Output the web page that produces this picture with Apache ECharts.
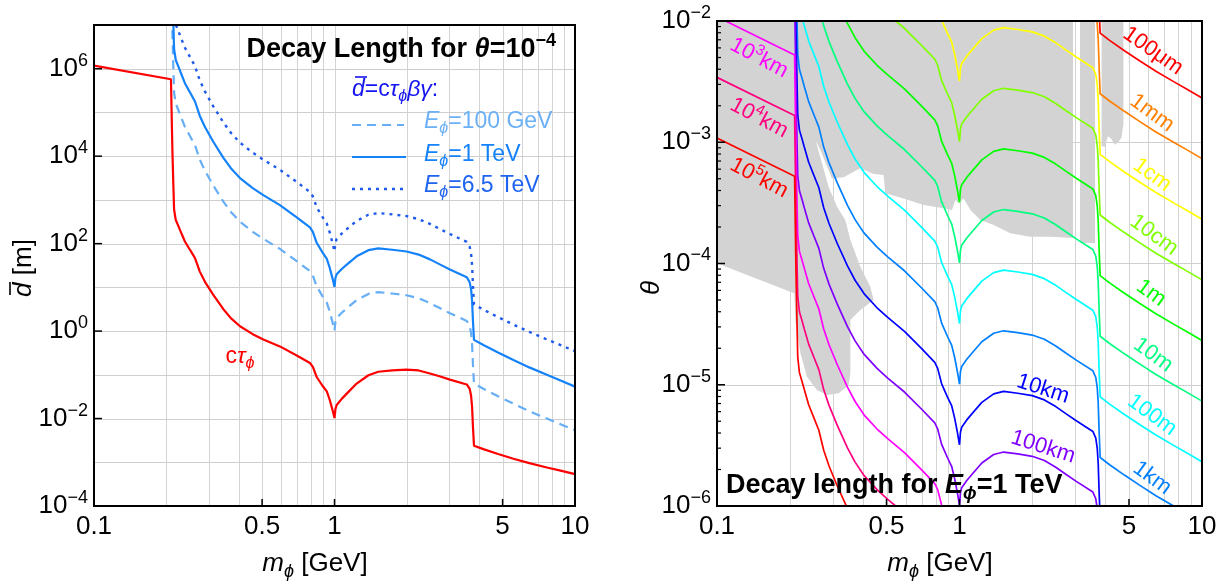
<!DOCTYPE html>
<html><head><meta charset="utf-8">
<script src="https://cdn.jsdelivr.net/npm/echarts@6.0.0/dist/echarts.min.js"></script>
<style>html,body{margin:0;padding:0;background:#fff}#c{width:1223px;height:583px}</style>
</head><body><div id="c"></div><script>
// ---------- DATA (log10 values) ----------
const massLog = [-1.000,-0.680,-0.677,-0.674,-0.670,-0.667,-0.660,-0.649,-0.640,-0.622,-0.600,-0.580,-0.560,-0.538,-0.504,-0.462,-0.430,-0.393,-0.340,-0.296,-0.227,-0.157,-0.102,-0.090,-0.074,-0.050,-0.032,-0.020,-0.008,0.000,0.004,0.009,0.030,0.051,0.092,0.141,0.182,0.240,0.300,0.350,0.397,0.440,0.480,0.550,0.562,0.568,0.572,0.576,0.580,0.619,0.680,0.744,0.810,0.883,0.940,1.000];
const logCtau = [6.07,5.76,4.92,4.13,3.33,2.78,2.54,2.40,2.28,2.05,1.85,1.67,1.36,1.12,0.83,0.50,0.29,0.11,-0.07,-0.19,-0.35,-0.56,-0.73,-0.82,-1.05,-1.25,-1.38,-1.57,-1.81,-1.99,-1.78,-1.69,-1.55,-1.43,-1.20,-1.01,-0.93,-0.90,-0.88,-0.90,-0.97,-1.04,-1.11,-1.22,-1.32,-1.48,-1.73,-2.22,-2.62,-2.70,-2.81,-2.92,-3.02,-3.12,-3.19,-3.27];
const logD100GeV = [9.07,8.44,7.6,6.8,6.0,5.45,5.2,5.05,4.92,4.67,4.45,4.25,3.92,3.66,3.33,2.96,2.72,2.50,2.27,2.11,1.88,1.60,1.37,1.27,1.02,0.80,0.65,0.45,0.20,0.01,0.22,0.30,0.42,0.52,0.71,0.85,0.89,0.86,0.82,0.75,0.64,0.52,0.41,0.23,0.12,-0.05,-0.30,-0.80,-1.20,-1.32,-1.49,-1.66,-1.83,-2.00,-2.13,-2.27];
const logD1TeV = [10.07,9.44,8.6,7.8,7.0,6.45,6.2,6.05,5.92,5.67,5.45,5.25,4.92,4.66,4.33,3.96,3.72,3.50,3.27,3.11,2.88,2.60,2.37,2.27,2.02,1.80,1.65,1.45,1.20,1.01,1.22,1.30,1.42,1.52,1.71,1.85,1.89,1.86,1.82,1.75,1.64,1.52,1.41,1.23,1.12,0.95,0.70,0.20,-0.20,-0.32,-0.49,-0.66,-0.83,-1.00,-1.13,-1.27];
const logD6500GeV = [10.88,10.25,9.41,8.61,7.81,7.26,7.01,6.86,6.73,6.48,6.26,6.06,5.73,5.47,5.14,4.77,4.53,4.31,4.08,3.92,3.69,3.41,3.18,3.08,2.83,2.61,2.46,2.26,2.01,1.82,2.03,2.11,2.23,2.33,2.52,2.66,2.70,2.67,2.63,2.56,2.45,2.33,2.22,2.04,1.93,1.76,1.51,1.01,0.61,0.49,0.32,0.15,-0.02,-0.19,-0.32,-0.46];

// right panel: log10(theta) of each decay-length contour, starting at massLog[contourStart[k]]
const th100um = [-1.90,-2.10,-2.16,-2.245,-2.33,-2.415,-2.50,-2.565,-2.635];
const th1mm = [-1.94,-2.025,-2.15,-2.40,-2.60,-2.66,-2.745,-2.83,-2.915,-3.00,-3.065,-3.135];
const th1cm = [-1.865,-1.99,-2.10,-2.175,-2.275,-2.40,-2.495,-2.39,-2.35,-2.29,-2.24,-2.145,-2.075,-2.055,-2.07,-2.09,-2.125,-2.18,-2.24,-2.295,-2.385,-2.44,-2.525,-2.65,-2.90,-3.10,-3.16,-3.245,-3.33,-3.415,-3.50,-3.565,-3.635];
const th10cm = [-1.945,-2.06,-2.20,-2.315,-2.365,-2.49,-2.60,-2.675,-2.775,-2.90,-2.995,-2.89,-2.85,-2.79,-2.74,-2.645,-2.575,-2.555,-2.57,-2.59,-2.625,-2.68,-2.74,-2.795,-2.885,-2.94,-3.025,-3.15,-3.40,-3.60,-3.66,-3.745,-3.83,-3.915,-4.00,-4.065,-4.135];
const th1m = [-1.835,-2.02,-2.14,-2.25,-2.365,-2.445,-2.56,-2.70,-2.815,-2.865,-2.99,-3.10,-3.175,-3.275,-3.40,-3.495,-3.39,-3.35,-3.29,-3.24,-3.145,-3.075,-3.055,-3.07,-3.09,-3.125,-3.18,-3.24,-3.295,-3.385,-3.44,-3.525,-3.65,-3.90,-4.10,-4.16,-4.245,-4.33,-4.415,-4.50,-4.565,-4.635];
const th10m = [-1.875,-2.04,-2.17,-2.335,-2.52,-2.64,-2.75,-2.865,-2.945,-3.06,-3.20,-3.315,-3.365,-3.49,-3.60,-3.675,-3.775,-3.90,-3.995,-3.89,-3.85,-3.79,-3.74,-3.645,-3.575,-3.555,-3.57,-3.59,-3.625,-3.68,-3.74,-3.795,-3.885,-3.94,-4.025,-4.15,-4.40,-4.60,-4.66,-4.745,-4.83,-4.915,-5.00,-5.065,-5.135];
const th100m = [-1.975,-2.04,-2.165,-2.275,-2.375,-2.54,-2.67,-2.835,-3.02,-3.14,-3.25,-3.365,-3.445,-3.56,-3.70,-3.815,-3.865,-3.99,-4.10,-4.175,-4.275,-4.40,-4.495,-4.39,-4.35,-4.29,-4.24,-4.145,-4.075,-4.055,-4.07,-4.09,-4.125,-4.18,-4.24,-4.295,-4.385,-4.44,-4.525,-4.65,-4.90,-5.10,-5.16,-5.245,-5.33,-5.415,-5.50,-5.565,-5.635];
const th1km = [-1.60,-2.00,-2.275,-2.40,-2.475,-2.54,-2.665,-2.775,-2.875,-3.04,-3.17,-3.335,-3.52,-3.64,-3.75,-3.865,-3.945,-4.06,-4.20,-4.315,-4.365,-4.49,-4.60,-4.675,-4.775,-4.90,-4.995,-4.89,-4.85,-4.79,-4.74,-4.645,-4.575,-4.555,-4.57,-4.59,-4.625,-4.68,-4.74,-4.795,-4.885,-4.94,-5.025,-5.15,-5.40,-5.60,-5.66,-5.745,-5.83,-5.915,-6.00,-6.065];
const th10km = [-1.70,-2.10,-2.50,-2.775,-2.90,-2.975,-3.04,-3.165,-3.275,-3.375,-3.54,-3.67,-3.835,-4.02,-4.14,-4.25,-4.365,-4.445,-4.56,-4.70,-4.815,-4.865,-4.99,-5.10,-5.175,-5.275,-5.40,-5.495,-5.39,-5.35,-5.29,-5.24,-5.145,-5.075,-5.055,-5.07,-5.09,-5.125,-5.18,-5.24,-5.295,-5.385,-5.44,-5.525,-5.65,-5.90,-6.10];
const th100km = [-1.78,-2.20,-2.60,-3.00,-3.275,-3.40,-3.475,-3.54,-3.665,-3.775,-3.875,-4.04,-4.17,-4.335,-4.52,-4.64,-4.75,-4.865,-4.945,-5.06,-5.20,-5.315,-5.365,-5.49,-5.60,-5.675,-5.775,-5.90,-5.995,-5.89,-5.85,-5.79,-5.74,-5.645,-5.575,-5.555,-5.57,-5.59,-5.625,-5.68,-5.74,-5.795,-5.885,-5.94,-6.025,-6.15];
const th1e3km = [-1.965,-2.28,-2.70,-3.10,-3.50,-3.775,-3.90,-3.975,-4.04,-4.165,-4.275,-4.375,-4.54,-4.67,-4.835,-5.02,-5.14,-5.25,-5.365,-5.445,-5.56,-5.70,-5.815,-5.865,-5.99,-6.10];
const th1e4km = [-2.465,-2.78,-3.20,-3.60,-4.00,-4.275,-4.40,-4.475,-4.54,-4.665,-4.775,-4.875,-5.04,-5.17,-5.335,-5.52,-5.64,-5.75,-5.865,-5.945,-6.06];
const th1e5km = [-2.965,-3.28,-3.70,-4.10,-4.50,-4.775,-4.90,-4.975,-5.04,-5.165,-5.275,-5.375,-5.54,-5.67,-5.835,-6.02];
const contourNames = ['100μm','1mm','1cm','10cm','1m','10m','100m','1km','10km','100km','10{sup|3}km','10{sup|4}km','10{sup|5}km'];
const contourStart = [47,44,23,19,14,11,7,3,2,1,0,0,0];
const contourTheta = [th100um,th1mm,th1cm,th10cm,th1m,th10m,th100m,th1km,th10km,th100km,th1e3km,th1e4km,th1e5km];

// excluded (gray) regions: [log10 m, log10 theta]
const grayMain = [[-1,-2],[-1,-3.998],[-0.698,-4.232],[-0.681,-4.246],[-0.677,-4.466],[-0.656,-4.741],[-0.629,-4.933],[-0.588,-5.043],[-0.546,-5.085],[-0.498,-5.071],[-0.457,-5.002],[-0.450,-4.906],[-0.450,-4.466],[-0.409,-4.384],[-0.354,-4.301],[-0.368,-4.191],[-0.409,-4.026],[-0.450,-3.806],[-0.471,-3.641],[-0.505,-3.531],[-0.540,-3.366],[-0.567,-3.174],[-0.594,-2.981],[-0.601,-2.954],[-0.574,-3.064],[-0.546,-3.201],[-0.526,-3.298],[-0.478,-3.289],[-0.436,-3.243],[-0.409,-3.215],[-0.354,-3.262],[-0.313,-3.270],[-0.306,-3.421],[-0.230,-3.463],[-0.148,-3.518],[-0.065,-3.545],[-0.031,-3.559],[-0.017,-3.476],[-0.003,-3.504],[0.017,-3.463],[0.045,-3.559],[0.086,-3.641],[0.141,-3.682],[0.210,-3.751],[0.292,-3.779],[0.375,-3.779],[0.468,-3.79],[0.468,-2]];
const grayStrip1 = [[0.497,-2],[0.497,-3.83],[0.559,-3.83],[0.559,-2]];
const grayStrip2 = [[0.586,-2],[0.586,-3.03],[0.600,-3.04],[0.612,-2.95],[0.625,-2.97],[0.640,-3.02],[0.655,-3.00],[0.668,-2.96],[0.676,-2.85],[0.676,-2]];

// ticks / labels / grid
const xTickValues = [0.1,0.5,1,5,10];
const xTickLabels = ['0.1','0.5','1','5','10'];
const xGridValues = [0.2,0.3,0.4,0.5,0.6,0.7,0.8,0.9,1,2,3,4,5,6,7,8,9];
const leftYTickValues = [1e-4,1e-2,1,1e2,1e4,1e6];
const leftYTickLabels = ['10{sup|−4}','10{sup|−2}','10{sup|0}','10{sup|2}','10{sup|4}','10{sup|6}'];
const leftYGridValues = [1e-3,1e-2,1e-1,1,1e1,1e2,1e3,1e4,1e5,1e6];
const rightYTickValues = [1e-6,1e-5,1e-4,1e-3,1e-2];
const rightYTickLabels = ['10{sup|−6}','10{sup|−5}','10{sup|−4}','10{sup|−3}','10{sup|−2}'];
const rightYMinorTicks = [2e-6,3e-6,4e-6,5e-6,6e-6,7e-6,8e-6,9e-6,2e-5,3e-5,4e-5,5e-5,6e-5,7e-5,8e-5,9e-5,2e-4,3e-4,4e-4,5e-4,6e-4,7e-4,8e-4,9e-4,2e-3,3e-3,4e-3,5e-3,6e-3,7e-3,8e-3,9e-3];
const rightYGridValues = [1e-5,1e-4,1e-3];

// ---------- STYLE / BUILD ----------
const F = '"Liberation Sans", Arial, sans-serif';
const contourColors = ['#ff0000','#ff8000','#ffff00','#80ff00','#00ff00','#00ff80','#00ffff','#0080ff','#0000ff','#8000ff','#ff00ff','#ff0080','#ff0000'];
const P0 = {xMin:0.1,xMax:10,yMin:1e-4,yMax:1e7};
const P1 = {xMin:0.1,xMax:10,yMin:1e-6,yMax:1e-2};
const pw = v => Math.pow(10, v);

function rich(size, color, weight){
  weight = weight || 'normal';
  const L = Math.round(size*1.3);
  return {
    it:{fontFamily:F,fontSize:size,fontStyle:'italic',fontWeight:weight,fill:color,lineHeight:L},
    sub:{fontFamily:F,fontSize:Math.round(size*0.68),fontStyle:'italic',fontWeight:weight,fill:color,lineHeight:Math.round(size*0.66),verticalAlign:'bottom'},
    sup:{fontFamily:F,fontSize:Math.round(size*0.68),fontWeight:weight,fill:color,lineHeight:Math.round(size*0.6),verticalAlign:'top'}
  };
}
function textStyle(text, size, color, o){
  return {text:text, fontFamily:F, fontSize:size, fontWeight:o.weight||'normal', fill:color,
    lineHeight:Math.round(size*1.3), align:o.align||'left', verticalAlign:'middle', rich:rich(size,color,o.weight)};
}
function label(x, y, text, size, color, o){
  o = o || {};
  return {type:'text', x:x, y:y, z:100, rotation:o.rot||0, silent:true, style:textStyle(text,size,color,o)};
}
// text whose first letter is an italic d with an overbar
function dbarLabel(x, y, rest, size, color, o, bar){
  return {type:'group', x:x, y:y, rotation:o.rot||0, z:100, silent:true, children:[
    {type:'text', z:100, style:textStyle('{it|d}' + rest, size, color, o)},
    {type:'line', z:100, shape:{x1:bar[0], y1:bar[2], x2:bar[1], y2:bar[2]}, style:{stroke:color, lineWidth:1.6}}
  ]};
}

function gridSeries(gi, P, xs, ys){
  return {type:'custom', xAxisIndex:gi, yAxisIndex:gi, z:1, silent:true, clip:false,
    encode:{x:0,y:1}, data:[[P.xMin,P.yMin]],
    renderItem(params, api){
      const c = [];
      xs.forEach(v => { const a = api.coord([v,P.yMin]), b = api.coord([v,P.yMax]);
        const x = Math.round(a[0])+0.5;
        c.push({type:'line', shape:{x1:x,y1:a[1],x2:x,y2:b[1]}, style:{stroke:'#d4d4d4',lineWidth:1}}); });
      ys.forEach(v => { const a = api.coord([P.xMin,v]), b = api.coord([P.xMax,v]);
        const y = Math.round(a[1])+0.5;
        c.push({type:'line', shape:{x1:a[0],y1:y,x2:b[0],y2:y}, style:{stroke:'#cfcfcf',lineWidth:1}}); });
      return {type:'group', children:c};
    }};
}
function axesSeries(gi, P, yMajor, yMinor, yLabels){
  return {type:'custom', xAxisIndex:gi, yAxisIndex:gi, z:20, silent:true, clip:false,
    encode:{x:0,y:1}, data:[[P.xMin,P.yMin]],
    renderItem(params, api){
      const c = [];
      const bl = api.coord([P.xMin,P.yMin]), tr = api.coord([P.xMax,P.yMax]);
      xTickValues.forEach(v => { const p = api.coord([v,P.yMin]);
        c.push({type:'line', shape:{x1:p[0],y1:bl[1],x2:p[0],y2:bl[1]-7}, style:{stroke:'#000',lineWidth:1.5}}); });
      yMajor.forEach(v => { const p = api.coord([P.xMin,v]);
        c.push({type:'line', shape:{x1:bl[0],y1:p[1],x2:bl[0]+8,y2:p[1]}, style:{stroke:'#000',lineWidth:1.5}}); });
      yMinor.forEach(v => { const p = api.coord([P.xMin,v]);
        c.push({type:'line', shape:{x1:bl[0],y1:p[1],x2:bl[0]+4,y2:p[1]}, style:{stroke:'#000',lineWidth:1.2}}); });
      xTickLabels.forEach((t,i) => { const p = api.coord([xTickValues[i],P.yMin]);
        c.push({type:'text', x:p[0], y:bl[1]+21, style:{text:t, fontFamily:F, fontSize:26, fill:'#000', align:'center', verticalAlign:'middle'}}); });
      yLabels.forEach((t,i) => { const p = api.coord([P.xMin,yMajor[i]]);
        c.push({type:'text', x:bl[0]-6, y:p[1], style:{text:t, fontFamily:F, fontSize:26, lineHeight:34, fill:'#000', align:'right', verticalAlign:'middle', rich:rich(26,'#000')}}); });
      c.push({type:'rect', shape:{x:bl[0],y:tr[1],width:tr[0]-bl[0],height:bl[1]-tr[1]}, style:{fill:'none',stroke:'#000',lineWidth:2}});
      return {type:'group', children:c};
    }};
}
function polySeries(poly){
  return {type:'custom', xAxisIndex:1, yAxisIndex:1, z:2, silent:true, clip:true,
    encode:{x:0,y:1}, data:[[0.1,1e-6]],
    renderItem(params, api){
      return {type:'polygon', shape:{points:poly.map(p => api.coord([pw(p[0]), pw(p[1])]))}, style:{fill:'#d3d3d3', stroke:'none'}};
    }};
}
function curve(gi, ys, start, color, width, dash, z){
  return {type:'line', xAxisIndex:gi, yAxisIndex:gi, showSymbol:false, symbol:'none', silent:true, clip:true, z:z||5,
    data: ys.map((v,i) => [pw(massLog[start+i]), pw(v)]),
    lineStyle:{color:color, width:width, type:dash||'solid'}};
}

const series = [
  gridSeries(0, P0, xGridValues, leftYGridValues),
  gridSeries(1, P1, xGridValues, rightYGridValues),
  polySeries(grayMain), polySeries(grayStrip1), polySeries(grayStrip2),
  curve(0, logCtau, 0, '#ff0000', 2.2),
  curve(0, logD100GeV, 0, '#66aef5', 2.2, [9,6]),
  curve(0, logD1TeV, 0, '#1482fa', 2.2),
  curve(0, logD6500GeV, 0, '#1e5aeb', 2.4, [3,5]),
  axesSeries(0, P0, leftYTickValues, [], leftYTickLabels),
  axesSeries(1, P1, rightYTickValues, rightYMinorTicks, rightYTickLabels)
];
contourTheta.forEach((arr,k) => series.push(curve(1, arr, contourStart[k], contourColors[k], 1.7)));

const hidden = {axisLine:{show:false}, axisTick:{show:false}, axisLabel:{show:false}, splitLine:{show:false}};
const graphics = [
  label(556, 50, 'Decay Length for {it|θ}=10{sup|−4}', 27, '#000', {weight:'bold', align:'right'}),
  dbarLabel(352, 90, '=c{it|τ}{sub|ϕ}{it|βγ}:', 23, '#1414f0', {}, [3, 15, -13]),
  {type:'line', z:100, shape:{x1:352,y1:125,x2:404,y2:125}, style:{stroke:'#66aef5',lineWidth:2.2,lineDash:[9,6]}},
  label(424, 122, '{it|E}{sub|ϕ}=100 GeV', 23, '#6cb0f5'),
  {type:'line', z:100, shape:{x1:352,y1:157,x2:406,y2:157}, style:{stroke:'#1482fa',lineWidth:2.2}},
  label(424, 155, '{it|E}{sub|ϕ}=1 TeV', 23, '#1482fa'),
  {type:'line', z:100, shape:{x1:352,y1:189,x2:404,y2:189}, style:{stroke:'#1e5aeb',lineWidth:2.4,lineDash:[3,5]}},
  label(424, 186, '{it|E}{sub|ϕ}=6.5 TeV', 23, '#1e64f0'),
  label(240, 357, 'c{it|τ}{sub|ϕ}', 23, '#ff0000', {align:'center'}),
  label(315, 564, '{it|m}{sub|ϕ} [GeV]', 26, '#000', {align:'center'}),
  label(940, 564, '{it|m}{sub|ϕ} [GeV]', 26, '#000', {align:'center'}),
  dbarLabel(24, 268, ' [m]', 26, '#000', {align:'center', rot:Math.PI/2}, [-27, -14, -14]),
  label(652, 288, '{it|θ}', 26, '#000', {align:'center', rot:Math.PI/2}),
  label(726, 486, 'Decay length for {it|E}{sub|ϕ}=1 TeV', 27, '#000', {weight:'bold'})
];
const annotPos = [
  [1153,51,-0.61],[1152,113,-0.63],[1152,175,-0.63],[1154,235,-0.63],
  [1151,293,-0.63],[1153,355,-0.63],[1152,415,-0.63],[1152,478,-0.63],
  [1043,389,-0.31],[1043,447,-0.31],
  [759,58,-0.49],[759,118,-0.49],[759,178,-0.49]
];
annotPos.forEach((a,k) => graphics.push(label(a[0], a[1], contourNames[k], 22, contourColors[k], {align:'center', rot:a[2]})));

const chart = echarts.init(document.getElementById('c'), null, {renderer:'canvas'});
chart.setOption({
  animation:false, backgroundColor:'#fff',
  grid:[{left:94, top:25, width:481, height:481, show:false},{left:717, top:21, width:485, height:485, show:false}],
  xAxis:[Object.assign({type:'log', gridIndex:0, min:0.1, max:10}, hidden), Object.assign({type:'log', gridIndex:1, min:0.1, max:10}, hidden)],
  yAxis:[Object.assign({type:'log', gridIndex:0, min:1e-4, max:1e7}, hidden), Object.assign({type:'log', gridIndex:1, min:1e-6, max:1e-2}, hidden)],
  series: series,
  graphic: graphics
});
</script></body></html>
